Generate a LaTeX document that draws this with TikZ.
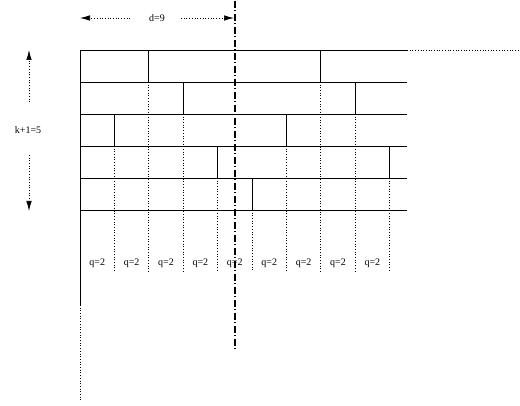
\documentclass[tikz,border=0pt]{standalone}
\usepackage{fontspec}
\setmainfont{Liberation Serif}
\usetikzlibrary{arrows.meta}

\begin{document}
\begin{tikzpicture}[x=1pt, y=-1pt,
    rowline/.style={line width=0.7pt},
    breakline/.style={line width=0.8pt},
    guide/.style={dotted, line width=0.7pt},
    cutline/.style={line width=1.6pt, dash pattern=on 7pt off 2.5pt on 1pt off 2.5pt},
    measure/.style={dotted, line width=0.7pt, -{Latex[length=10pt,width=5.5pt]}},
    lbl/.style={font=\fontsize{10}{12}\selectfont, inner sep=1pt}]
    \useasboundingbox (0,0) rectangle (520,406);
    % 5 rows of blocks over columns of width q
    \def\xo{80}    % left edge
    \def\yo{50}    % top edge
    \def\cw{34.4}  % column width
    \def\rh{32}    % row height
    \def\xe{407}   % right end of the rows
    \def\yq{272}   % lower end of the guides

    % row lines
    \foreach \r in {0,...,5} {
      \pgfmathsetmacro{\ry}{\yo+\r*\rh}
      \draw[rowline] (\xo,\ry) -- (\xe,\ry);
    }
    \draw[guide] (\xe,\yo) -- (519,\yo);

    % left edge: solid, then dotted
    \draw[rowline] (\xo,\yo) -- (\xo,305);
    \draw[guide] (\xo,305) -- (\xo,400);

    % block ends in each row, with a guide below
    \foreach \r/\cols in {1/{2,7},2/{3,8},3/{1,6},4/{4,9},5/{5}} {
      \pgfmathsetmacro{\ya}{\yo+(\r-1)*\rh}
      \pgfmathsetmacro{\yb}{\yo+\r*\rh}
      \foreach \c in \cols {
        \pgfmathsetmacro{\bx}{\xo+\c*\cw}
        \draw[breakline] (\bx,\ya) -- (\bx,\yb);
        \draw[guide] (\bx,\yb) -- (\bx,\yq);
      }
    }

    % column widths
    \foreach \i in {0,...,8} {
      \pgfmathsetmacro{\qx}{\xo+(\i+0.5)*\cw}
      \node[lbl] (q\i) at (\qx,263) {q=2};
    }

    % d = 9 columns
    \node[lbl] (dlab) at (157,18) {d=9};
    \coordinate (dL) at (\xo,18);
    \coordinate (dR) at (234,18);
    \draw[measure] ([xshift=-18pt]dlab.west) -- (dL);
    \draw[measure] ([xshift=15pt]dlab.east) -- (dR);

    % k+1 = 5 rows
    \node[lbl] (klab) at (28,130) {k+1=5};
    \coordinate (kT) at (29,50);
    \coordinate (kB) at (29,211);
    \draw[measure] (29,102) -- (kT);
    \draw[measure] (29,155) -- (kB);

    % cut
    \coordinate (cutT) at (235,1);
    \coordinate (cutB) at (235,352);
    \draw[cutline] (cutT) -- (cutB);

  \end{tikzpicture}
\end{document}
